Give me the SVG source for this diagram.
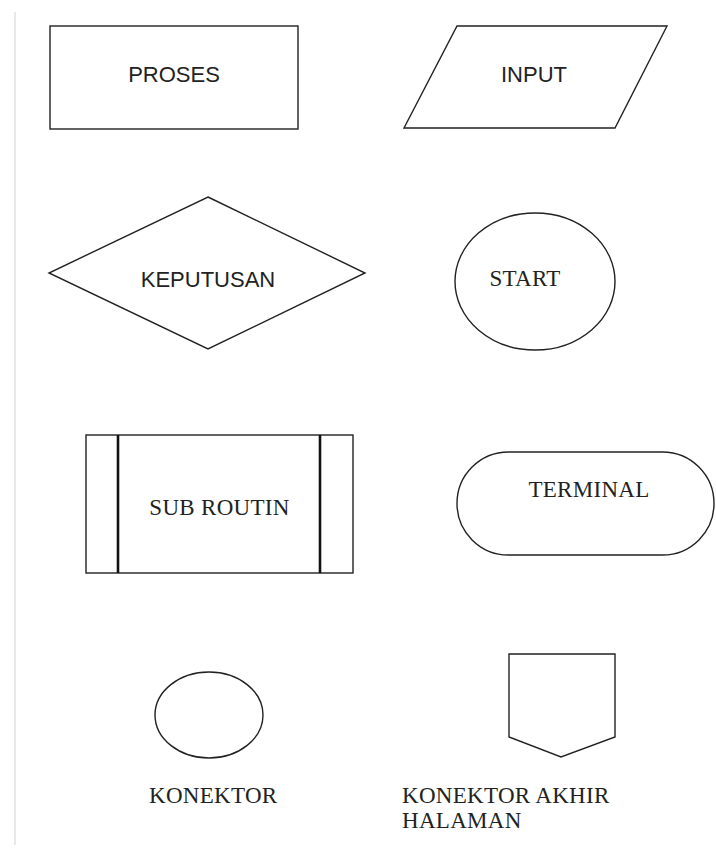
<svg xmlns="http://www.w3.org/2000/svg" width="716" height="853" viewBox="0 0 716 853">
<style>
.s{fill:none;stroke:#222;stroke-width:1.4}
.b{fill:none;stroke:#111;stroke-width:2.6}
.sans{font-family:"Liberation Sans",Arial,sans-serif;font-size:22px;fill:#222}
.serif{font-family:"Liberation Serif","Times New Roman",serif;font-size:23px;letter-spacing:0.3px;fill:#222}
</style>
<rect width="716" height="853" fill="#fff"/>
<line x1="15" y1="12" x2="15" y2="845" stroke="#e8e8e8" stroke-width="2"/>
<g id="proses">
<rect class="s" x="50" y="26" width="248" height="103"/>
<text class="sans" x="174" y="82" text-anchor="middle">PROSES</text>
</g>
<g id="input">
<polygon class="s" points="457,26 667,26 615,128 404,128"/>
<text class="sans" x="534" y="82" text-anchor="middle">INPUT</text>
</g>
<g id="keputusan">
<polygon class="s" points="208,197 365,273 208,349 49,273"/>
<text class="sans" x="208" y="287" text-anchor="middle">KEPUTUSAN</text>
</g>
<g id="start">
<ellipse class="s" cx="535" cy="281.5" rx="80" ry="68.5"/>
<text class="serif" x="525" y="286" text-anchor="middle">START</text>
</g>
<g id="subroutin">
<rect class="s" x="86" y="435" width="267" height="138"/>
<line class="b" x1="118" y1="435" x2="118" y2="573"/>
<line class="b" x1="320" y1="435" x2="320" y2="573"/>
<text class="serif" x="219.5" y="515" text-anchor="middle">SUB ROUTIN</text>
</g>
<g id="terminal">
<rect class="s" x="457" y="452" width="257" height="103" rx="51.5" ry="51.5"/>
<text class="serif" x="589" y="497" text-anchor="middle">TERMINAL</text>
</g>
<g id="konektor">
<ellipse class="s" cx="209" cy="715" rx="54" ry="43"/>
<text class="serif" x="149" y="803">KONEKTOR</text>
</g>
<g id="konektor-akhir">
<polygon class="s" points="509,654 615,654 615,737 561,757 509,737"/>
<text class="serif" x="402" y="803">KONEKTOR AKHIR</text>
<text class="serif" x="402" y="828">HALAMAN</text>
</g>
<g id="connectors"></g>
</svg>
